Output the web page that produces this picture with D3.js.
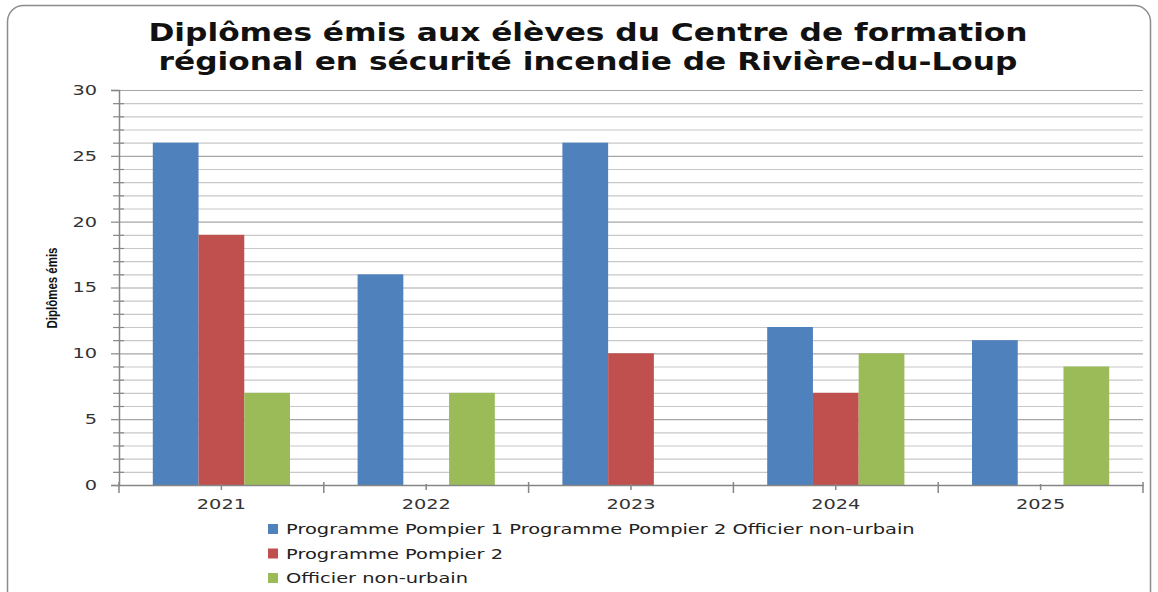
<!DOCTYPE html>
<html>
<head>
<meta charset="utf-8">
<script src="https://cdn.jsdelivr.net/npm/d3@7"></script>
<style>
  body { margin: 0; background: #fff; }
  svg { display: block; }
</style>
</head>
<body>
<script>
// data
var years = ["2021", "2022", "2023", "2024", "2025"];
var pompier1 = [26, 16, 26, 12, 11];
var pompier2 = [19, 0, 10, 7, 0];
var officier = [7, 7, 0, 10, 9];
var seriesNames = ["Programme Pompier 1 Programme Pompier 2 Officier non-urbain", "Programme Pompier 2", "Officier non-urbain"];
var seriesKeys = ["p1", "p2", "off"];
var colors = ["#4f81bd", "#c0504d", "#9bbb59"];
var yTicks = [0, 5, 10, 15, 20, 25, 30];

var width = 1158, height = 592;
var margin = {top: 90, right: 15, bottom: 107, left: 119};

var table = years.map((y, i) => ({year: y, p1: pompier1[i], p2: pompier2[i], off: officier[i]}));

// the original picture looks stretched sideways, so widen the text a bit
function stretch(sel, k) {
    sel.each(function() {
        var w = this.getComputedTextLength();
        d3.select(this).attr("textLength", w * k).attr("lengthAdjust", "spacingAndGlyphs");
    });
}

const svg = d3.select("body")
    .append("svg")
    .attr("width", width)
    .attr("height", height);

// outer frame
svg.append("rect")
    .attr("x", 7.5).attr("y", 5.5)
    .attr("width", 1143).attr("height", 620)
    .attr("rx", 16)
    .attr("fill", "#fff")
    .attr("stroke", "#8c8c8c")
    .attr("stroke-width", 1.5);

// title
var title = svg.append("text")
    .attr("text-anchor", "middle")
    .attr("font-family", "DejaVu Sans")
    .attr("font-weight", "bold")
    .attr("font-size", 25)
    .attr("fill", "#111");
title.append("tspan").attr("x", 588).attr("y", 41).text("Diplômes émis aux élèves du Centre de formation");
title.append("tspan").attr("x", 588).attr("y", 70).text("régional en sécurité incendie de Rivière-du-Loup");
stretch(title.selectAll("tspan"), 1.25);

var x0 = d3.scaleBand()
    .domain(years)
    .range([margin.left, width - margin.right - 0]);
// inner group takes 2/3 of the band
var x1 = d3.scaleBand()
    .domain(seriesKeys)
    .range([0, x0.bandwidth() * 0.67]);

var y = d3.scaleLinear()
    .domain([0, 30])
    .range([485, 90]);

var color = d3.scaleOrdinal().domain(seriesKeys).range(colors);

// gridlines every unit
svg.append("g")
    .selectAll("line")
    .data(d3.range(1, 31))
    .join("line")
    .attr("x1", margin.left)
    .attr("x2", x0.range()[1])
    .attr("y1", d => y(d) + 0.5)
    .attr("y2", d => y(d) + 0.5)
    .attr("stroke", d => d % 5 == 0 ? "#a6a6a6" : "#c8c8c8")
    .attr("stroke-width", 1.2);

// bars
svg.append("g")
    .selectAll("g")
    .data(table)
    .join("g")
    .attr("transform", d => `translate(${x0(d.year) + x0.bandwidth() * 0.165},0)`)
    .selectAll("rect")
    .data(d => seriesKeys.map(k => ({key: k, value: d[k]})))
    .join("rect")
    .attr("x", d => x1(d.key))
    .attr("width", x1.bandwidth())
    .attr("y", d => y(d.value))
    .attr("height", d => y(0) - y(d.value))
    .attr("fill", d => color(d.key));

// y axis
var yAxis = svg.append("g")
    .attr("transform", `translate(${margin.left},0)`)
    .call(d3.axisLeft(y).tickValues(yTicks).tickSize(8).tickPadding(14).tickFormat(d3.format("d")));
yAxis.select(".domain").attr("stroke", "#868686").attr("stroke-width", 1.5);
yAxis.selectAll(".tick line").attr("stroke", "#868686").attr("stroke-width", 1.2);
yAxis.selectAll(".tick text")
    .attr("font-family", "DejaVu Sans")
    .attr("font-size", 14)
    .attr("fill", "#333");
stretch(yAxis.selectAll(".tick text"), 1.38);
// minor y ticks
svg.append("g")
    .selectAll("line")
    .data(d3.range(1, 30).filter(d => d % 5 != 0))
    .join("line")
    .attr("x1", margin.left - 6)
    .attr("x2", margin.left + 5)
    .attr("y1", d => y(d) + 0.5)
    .attr("y2", d => y(d) + 0.5)
    .attr("stroke", "#868686")
    .attr("stroke-width", 1.2);

// x axis
var xAxis = svg.append("g")
    .attr("transform", `translate(0,${y(0)})`)
    .call(d3.axisBottom(x0).tickSize(0).tickPadding(14));
xAxis.select(".domain").attr("stroke", "#868686").attr("stroke-width", 1.5);
xAxis.selectAll(".tick text")
    .attr("font-family", "DejaVu Sans")
    .attr("font-size", 14)
    .attr("fill", "#333");
stretch(xAxis.selectAll(".tick text"), 1.38);
// boundary ticks
var bounds = years.map(d => x0(d)).concat([x0.range()[1]]);
svg.append("g")
    .selectAll("line")
    .data(bounds)
    .join("line")
    .attr("x1", d => d).attr("x2", d => d)
    .attr("y1", y(0) - 3).attr("y2", y(0) + 8)
    .attr("stroke", "#868686")
    .attr("stroke-width", 1.5);
// center ticks
svg.append("g")
    .selectAll("line")
    .data(years)
    .join("line")
    .attr("x1", d => x0(d) + x0.bandwidth() / 2)
    .attr("x2", d => x0(d) + x0.bandwidth() / 2)
    .attr("y1", y(0) - 1).attr("y2", y(0) + 5)
    .attr("stroke", "#868686")
    .attr("stroke-width", 1.5);

// y axis title
svg.append("text")
    .attr("transform", "translate(57,288) rotate(-90)")
    .attr("text-anchor", "middle")
    .attr("font-family", "Liberation Sans Narrow, Liberation Sans")
    .attr("font-weight", "bold")
    .attr("font-size", 14)
    .attr("fill", "#111")
    .attr("textLength", 81)
    .attr("lengthAdjust", "spacingAndGlyphs")
    .text("Diplômes émis");

// legend
seriesNames.forEach((d, i) => {
    svg.append("rect")
        .attr("x", 268)
        .attr("y", 524 + 24.5 * i)
        .attr("width", 10)
        .attr("height", 10)
        .attr("fill", colors[i]);
    svg.append("text")
        .attr("x", 286)
        .attr("y", 534 + 24.5 * i)
        .attr("font-family", "DejaVu Sans")
        .attr("font-size", 14.5)
        .attr("fill", "#222")
        .text(d)
        .call(stretch, 1.34);
});
</script>
</body>
</html>
